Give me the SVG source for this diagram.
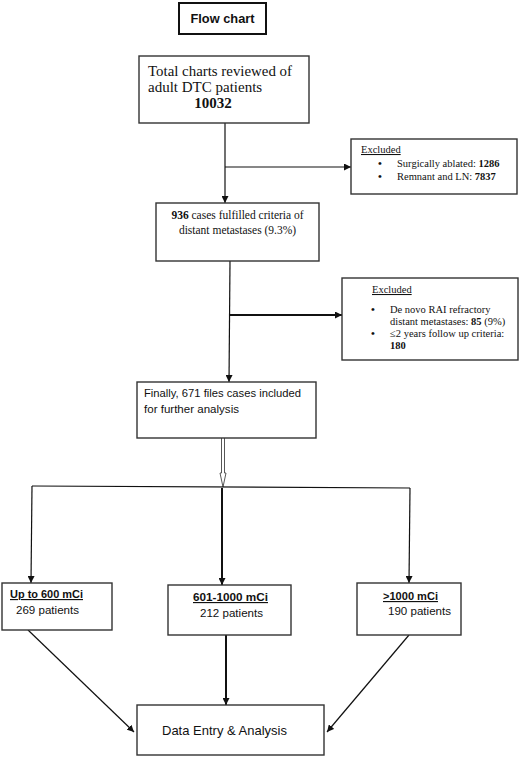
<svg xmlns="http://www.w3.org/2000/svg" width="520" height="759" viewBox="0 0 520 759">
<style>
.box{fill:#fff;stroke:#333;stroke-width:1.4}
.serif{font-family:"Liberation Serif","Times New Roman",serif;fill:#111}
.sans{font-family:"Liberation Sans",Arial,sans-serif;fill:#111}
.b{font-weight:bold}
.u{text-decoration:underline}
.c{stroke:#111;stroke-width:1.2;fill:none}
.thick{stroke-width:2}
.dot{font-size:11px;font-weight:bold}
</style>
<defs>
<marker id="ah" viewBox="0 0 10 10" refX="10" refY="5" markerWidth="7" markerHeight="7" markerUnits="userSpaceOnUse" orient="auto">
<path d="M0,0 L10,5 L0,10 Z" fill="#111"/>
</marker>
</defs>
<rect width="520" height="759" fill="#fff"/>

<g id="title">
<rect x="179" y="3" width="87" height="31" fill="#fff" stroke="#111" stroke-width="2"/>
<text class="sans b" x="222.5" y="23" font-size="13" text-anchor="middle" textLength="64" lengthAdjust="spacingAndGlyphs">Flow chart</text>
</g>

<g id="connectors">
<line class="c" x1="225" y1="123" x2="225" y2="203" marker-end="url(#ah)"/>
<line class="c" x1="225" y1="167" x2="351" y2="167" marker-end="url(#ah)"/>
<line class="c" x1="230" y1="261" x2="229" y2="382" marker-end="url(#ah)"/>
<line class="c thick" x1="230" y1="315" x2="342" y2="315" marker-end="url(#ah)"/>
<path d="M221.5,438 V473 H220 L223,487 L226,473 H224.5 V438" fill="#fff" stroke="#444" stroke-width="0.9"/>
<line class="c" x1="32" y1="486" x2="410" y2="488"/>
<line class="c" x1="32" y1="486" x2="31" y2="583" marker-end="url(#ah)"/>
<line class="c thick" x1="222" y1="488" x2="222" y2="585" marker-end="url(#ah)"/>
<line class="c" x1="410" y1="488" x2="409" y2="583" marker-end="url(#ah)"/>
<line class="c" x1="28" y1="630" x2="134" y2="732" marker-end="url(#ah)"/>
<line class="c thick" x1="226" y1="635" x2="226" y2="705" marker-end="url(#ah)"/>
<line class="c" x1="409" y1="635" x2="327" y2="732" marker-end="url(#ah)"/>
</g>

<g id="total">
<rect class="box" x="139" y="56" width="170" height="67"/>
<text class="serif" x="148" y="76" font-size="15" textLength="144" lengthAdjust="spacingAndGlyphs">Total charts reviewed of</text>
<text class="serif" x="148" y="92" font-size="15">adult DTC patients</text>
<text class="serif b" x="213" y="108" font-size="15" text-anchor="middle">10032</text>
</g>

<g id="excluded1">
<rect class="box" x="351" y="139" width="166" height="55"/>
<text class="serif u" x="361" y="153" font-size="10.5">Excluded</text>
<text class="serif dot" x="378" y="167">•</text>
<text class="serif" x="397" y="167" font-size="10.5">Surgically ablated: <tspan class="b">1286</tspan></text>
<text class="serif dot" x="378" y="180">•</text>
<text class="serif" x="397" y="180" font-size="10.5">Remnant and LN: <tspan class="b">7837</tspan></text>
</g>

<g id="cases936">
<rect class="box" x="156" y="203" width="163" height="58"/>
<text class="serif" x="237.5" y="219" font-size="11.5" text-anchor="middle"><tspan class="b">936</tspan> cases fulfilled criteria of</text>
<text class="serif" x="237.5" y="234" font-size="11.5" text-anchor="middle">distant metastases (9.3%)</text>
</g>

<g id="excluded2">
<rect class="box" x="342" y="278" width="176" height="82"/>
<text class="serif u" x="372" y="293" font-size="10.5">Excluded</text>
<text class="serif dot" x="371" y="313">•</text>
<text class="serif" x="390" y="313" font-size="10.5">De novo RAI refractory</text>
<text class="serif" x="390" y="325" font-size="10.5">distant metastases: <tspan class="b">85</tspan> (9%)</text>
<text class="serif dot" x="371" y="337">•</text>
<text class="serif" x="390" y="337" font-size="10.5">≤2 years follow up criteria:</text>
<text class="serif b" x="390" y="349" font-size="10.5">180</text>
</g>

<g id="included671">
<rect class="box" x="137" y="382" width="179" height="56"/>
<text class="sans" x="144" y="397" font-size="11.5" textLength="157" lengthAdjust="spacingAndGlyphs">Finally, 671 files cases included</text>
<text class="sans" x="144" y="413" font-size="11.5" textLength="95" lengthAdjust="spacingAndGlyphs">for further analysis</text>
</g>

<g id="upto600">
<rect class="box" x="2" y="583" width="110" height="47"/>
<text class="sans b u" x="10" y="598" font-size="11.5" textLength="73" lengthAdjust="spacingAndGlyphs">Up to 600 mCi</text>
<text class="sans" x="16" y="614" font-size="11.5" textLength="63" lengthAdjust="spacingAndGlyphs">269 patients</text>
</g>

<g id="mid601">
<rect class="box" x="168" y="585" width="123" height="50"/>
<text class="sans b u" x="193" y="601" font-size="11.5" textLength="75" lengthAdjust="spacingAndGlyphs">601-1000 mCi</text>
<text class="sans" x="200" y="617" font-size="11.5" textLength="63" lengthAdjust="spacingAndGlyphs">212 patients</text>
</g>

<g id="over1000">
<rect class="box" x="357" y="583" width="104" height="52"/>
<text class="sans b u" x="383" y="600" font-size="11.5" textLength="55" lengthAdjust="spacingAndGlyphs">&gt;1000 mCi</text>
<text class="sans" x="388" y="615" font-size="11.5" textLength="63" lengthAdjust="spacingAndGlyphs">190 patients</text>
</g>

<g id="dataentry">
<rect class="box" x="137" y="705" width="187" height="50"/>
<text class="sans" x="162" y="735" font-size="13.5" textLength="125" lengthAdjust="spacingAndGlyphs">Data Entry &amp; Analysis</text>
</g>
</svg>
